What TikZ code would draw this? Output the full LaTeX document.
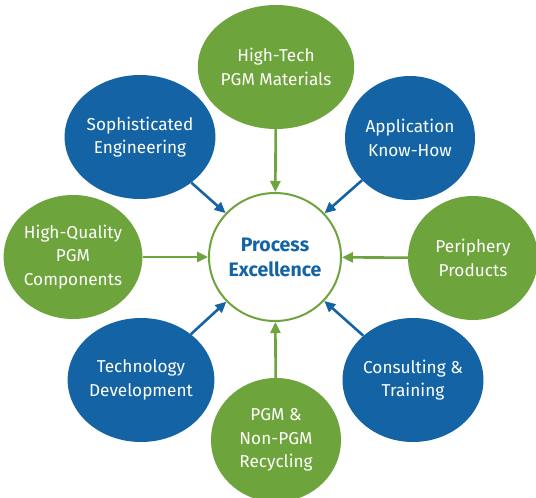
\documentclass[tikz,border=0pt]{standalone}
\usepackage{fontspec}
\setmainfont{Fira Sans}
\usetikzlibrary{shapes.geometric,arrows.meta}
\definecolor{pgreen}{HTML}{6EA43C}
\definecolor{pblue}{HTML}{1464A5}
\begin{document}
\begin{tikzpicture}[x=1pt,y=-1pt,
  outer/.style={ellipse, minimum width=130pt, minimum height=124pt, inner sep=0pt,
    text=white, align=center, font=\fontsize{17.2}{23.5}\selectfont},
  gnode/.style={outer, fill=pgreen},
  bnode/.style={outer, fill=pblue},
  hub/.style={ellipse, draw=pgreen, line width=2pt, fill=white, minimum width=132pt,
    minimum height=128pt, inner sep=0pt, text=pblue, align=center,
    font=\bfseries\fontsize{19.5}{25}\selectfont},
  garrow/.style={draw=pgreen, line width=2.6pt, -{Triangle[length=11pt,width=10pt]}},
  barrow/.style={draw=pblue, line width=2.6pt, -{Triangle[length=11pt,width=10pt]}}]
\useasboundingbox (0,0) rectangle (536,498);
\node[hub] (C) at (275,257) {Process\\Excellence};
\node[gnode] (T) at (276,67) {High-Tech\\PGM Materials};
\node[bnode] (TL) at (140,137) {Sophisticated\\Engineering};
\node[bnode] (TR) at (410,138) {Application\\Know-How};
\node[gnode] (L) at (73,257) {High-Quality\\PGM\\Components};
\node[gnode] (R) at (473,258) {Periphery\\Products};
\node[bnode] (BL) at (141,380) {Technology\\Development};
\node[bnode] (BR) at (413,380) {Consulting \&\\Training};
\node[gnode] (B) at (276,440) {PGM \&\\Non-PGM\\Recycling};
\draw[garrow] (T) -- (C);
\draw[garrow] (L) -- (C);
\draw[garrow] (R) -- (C);
\draw[garrow] (B) -- (C);
\draw[barrow] (TL) -- (C);
\draw[barrow] (TR) -- (C);
\draw[barrow] (BL) -- (C);
\draw[barrow] (BR) -- (C);
\end{tikzpicture}
\end{document}
